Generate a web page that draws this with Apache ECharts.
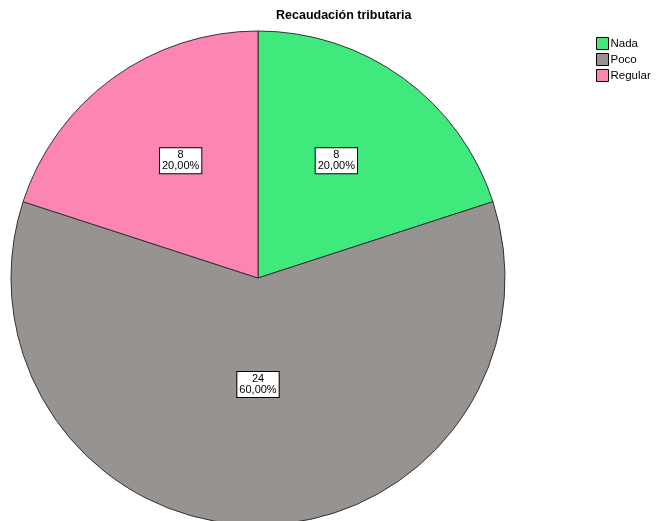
<!DOCTYPE html>
<html lang="es">
<head>
<meta charset="UTF-8">
<title>Recaudación tributaria</title>
<script src="https://cdn.jsdelivr.net/npm/echarts@6/dist/echarts.min.js"></script>
<style>
  body { margin: 0; padding: 0; background: #fff; }
  #main { width: 659px; height: 521px; }
</style>
</head>
<body>
<div id="main"></div>
<script>
  // categorías y valores
  var categories = ['Nada', 'Poco', 'Regular'];
  var counts = [8, 24, 8];
  var percents = ['20,00%', '60,00%', '20,00%'];
  var colors = ['#3fe97b', '#979391', '#fc85b3'];

  var chart = echarts.init(document.getElementById('main'));

  // desplazamiento de las etiquetas (estilo, no datos)
  var labelOffsets = [[4, -15], [0, -20], [-3, -15]];

  var option = {
    backgroundColor: '#fff',
    animation: false,
    title: {
      text: 'Recaudación tributaria',
      left: 271,
      top: 4,
      textStyle: { fontFamily: 'Arial, Liberation Sans', fontSize: 12.5, fontWeight: 'bold', color: '#000' }
    },
    legend: {
      orient: 'vertical',
      left: 591,
      top: 32,
      itemWidth: 12,
      itemHeight: 12,
      itemGap: 3,
      icon: 'rect',
      itemStyle: { borderColor: '#000', borderWidth: 1 },
      textStyle: { fontFamily: 'Arial, Liberation Sans', fontSize: 11.5, color: '#000', padding: [0, 0, 0, -3] },
      data: categories
    },
    series: [{
      type: 'pie',
      center: [258, 278],
      radius: [0, 247],
      startAngle: 90,
      clockwise: true,
      silent: true,
      itemStyle: { borderColor: '#333', borderWidth: 1 },
      label: {
        position: 'inside',
        formatter: function (p) { return counts[p.dataIndex] + '\n' + percents[p.dataIndex]; },
        fontFamily: 'Arial, Liberation Sans',
        fontSize: 11,
        lineHeight: 11,
        color: '#000',
        backgroundColor: '#fff',
        borderColor: '#000',
        borderWidth: 1,
        padding: [2, 2, 1, 2],
        align: 'center'
      },
      labelLine: { show: false },
      data: categories.map(function (c, i) {
        return {
          name: c,
          value: counts[i],
          itemStyle: { color: colors[i] },
          label: { offset: labelOffsets[i] }
        };
      })
    }]
  };

  chart.setOption(option);
</script>
</body>
</html>
